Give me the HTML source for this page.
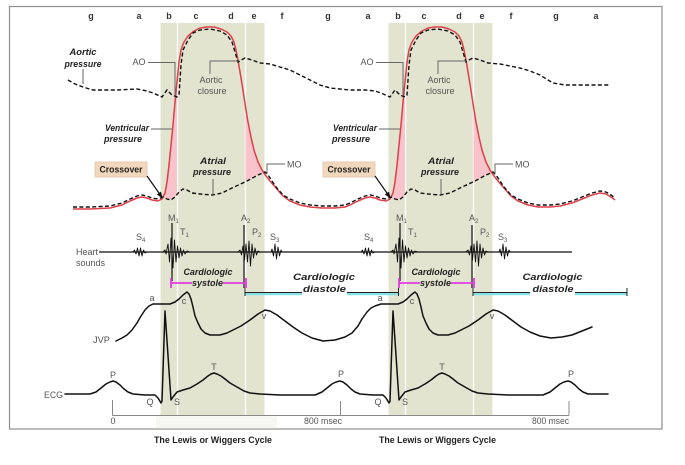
<!DOCTYPE html>
<html><head><meta charset="utf-8"><style>
html,body{margin:0;padding:0;background:#fff;}
svg{display:block;}
text{font-family:"Liberation Sans",Arial,sans-serif;}
.g{fill:#555;font-size:9px;}
.bi{fill:#222;font-size:9px;font-weight:bold;font-style:italic;}
.lt{fill:#333;font-size:9px;font-weight:bold;}
.ld{fill:none;stroke:#666;stroke-width:1;}
.dash{fill:none;stroke:#111;stroke-width:1.4;stroke-dasharray:4 2.4;}
.hs{fill:none;stroke:#111;stroke-width:0.9;stroke-linejoin:round;}
.crv{fill:none;stroke:#111;stroke-width:1.5;stroke-linejoin:round;stroke-linecap:round;}
</style></head><body>
<svg width="685" height="465" viewBox="0 0 685 465" xmlns="http://www.w3.org/2000/svg">
<rect width="685" height="465" fill="#fff"/>
<!-- border -->
<rect x="9.5" y="6.5" width="652.5" height="422.5" fill="none" stroke="#8f8f8f" stroke-width="1.2"/>
<!-- faint strip -->
<rect x="156" y="416.5" width="121" height="12" fill="#f6f6f2"/>

<!-- bands -->
<rect x="160.5" y="23" width="104" height="393" fill="#e3e4d0"/>
<rect x="388.5" y="23" width="104" height="393" fill="#e3e4d0"/>
<g stroke="#fff" stroke-width="1.3">
<line x1="177.5" y1="23" x2="177.5" y2="416"/>
<line x1="245.5" y1="23" x2="245.5" y2="416"/>
<line x1="405.5" y1="23" x2="405.5" y2="416"/>
<line x1="473.5" y1="23" x2="473.5" y2="416"/>
</g>

<!-- letters row -->
<g class="lt" text-anchor="middle">
<text x="91" y="19">g</text><text x="139" y="19">a</text><text x="169" y="19">b</text><text x="196" y="19">c</text><text x="231" y="19">d</text><text x="254" y="19">e</text><text x="282" y="19">f</text><text x="328" y="19">g</text>
<text x="368" y="19">a</text><text x="398" y="19">b</text><text x="424" y="19">c</text><text x="459" y="19">d</text><text x="482" y="19">e</text><text x="511" y="19">f</text><text x="556" y="19">g</text><text x="596" y="19">a</text>
</g>

<!-- pink fills -->
<g fill="#f8c3ca">
<polygon points="163,198 165,193 167,182 169,165 171,145 173,125 175,102 177,82 177,195 175,197 171,199 167,199"/>
<polygon points="245.5,107 246,110 248,122 251,137 254,150 258,162 262,170 265,174 258,175 247,181 245.5,181"/>
<g transform="translate(228,0)">
<polygon points="163,198 165,193 167,182 169,165 171,145 173,125 175,102 177,82 177,195 175,197 171,199 167,199"/>
<polygon points="245.5,107 246,110 248,122 251,137 254,150 258,162 262,170 265,174 258,175 247,181 245.5,181"/>
</g>
</g>

<!-- red ventricular -->
<polyline fill="none" stroke="#dd4048" stroke-width="1.5" stroke-linejoin="round" points="73,209 90,209 110,208 122,205 130,201 137,198 142,197 147,198 152,200 158,201 162,199 165,193 167,182 169,165 171,145 173,125 175,102 177,82 179,62 181,50 184,42 188,36 194,31 200,28 207,27 214,27 221,29 227,32 231,36 234,42 236,50 238,60 240,72 242,84 244,97 246,110 248,122 251,137 254,150 258,162 262,170 266,176 270,181 276,188 283,196 290,201 300,205 310,207 322,208 335,208 345,207 350,205 358,201 365,198 370,197 375,198 380,200 386,201 390,199 393,193 395,182 397,165 399,145 401,125 403,102 405,82 407,62 409,50 412,42 416,36 422,31 428,28 435,27 442,27 449,29 455,32 459,36 462,42 464,50 466,60 468,72 470,84 472,97 474,110 476,122 479,137 482,150 486,162 490,170 494,176 498,181 504,188 511,196 518,201 528,205 538,207 550,207 560,206 572,203 582,199 592,195 600,193 606,194 611,197 615,200"/>

<!-- dashed lower (atrial) -->
<polyline class="dash" points="73,207 90,207 110,206 122,203 130,199 137,196 142,195 147,196 152,198 158,199 163,197 167,199 171,200 175,197 179,192 183,189 187,190 192,193 200,194 212,195 222,193 232,188 247,181 258,175 265,172 268,175 272,181 276,187 283,195 290,199 300,203 310,205 322,206 335,206 345,205 350,203 358,199 365,196 370,195 375,196 380,198 386,199 391,197 395,199 399,200 403,197 407,192 411,189 415,190 420,193 428,194 440,195 450,193 460,188 475,181 486,175 493,172 496,175 500,181 504,187 511,195 518,199 528,203 538,205 550,205 560,204 572,201 582,197 592,193 600,191 606,192 611,195 615,198"/>

<!-- dashed aortic -->
<polyline class="dash" points="68,80 75,84 83,87 93,90 117,90 137,89 147,91 153,93 162,97 167,90 172,95 177,97 179,95 180,80 181,65 183,50 188,40 193,33 200,30 210,29 220,31 227,35 232,42 235,52 238,62 241,60 245,58 252,60 260,63 270,64 280,67 290,70 300,75 310,80 320,85 330,88 340,89 350,90 365,90 375,91 381,93 390,97 395,90 400,95 405,97 407,95 408,80 409,65 411,50 416,40 421,33 428,30 438,29 448,31 455,35 460,42 463,52 466,62 469,60 473,58 480,60 488,63 500,64 510,66 520,68 530,71 540,75 548,80 553,83 565,85 590,85 610,85"/>

<!-- upper labels left -->
<text class="bi" x="83" y="55" text-anchor="middle" textLength="27" lengthAdjust="spacingAndGlyphs">Aortic</text>
<text class="bi" x="83" y="67" text-anchor="middle" textLength="37" lengthAdjust="spacingAndGlyphs">pressure</text>
<line class="ld" x1="83" y1="69" x2="83" y2="84"/>

<g>
<text class="g" x="139" y="65" text-anchor="middle">AO</text>
<polyline class="ld" points="148,62.5 175,62.5 175,95"/>
<text class="g" x="211" y="83" text-anchor="middle">Aortic</text>
<text class="g" x="212" y="94" text-anchor="middle">closure</text>
<polyline class="ld" points="210,74 210,61 238,61"/>
<text class="bi" x="149" y="131" text-anchor="end" textLength="44" lengthAdjust="spacingAndGlyphs">Ventricular</text>
<text class="bi" x="104" y="142" textLength="38" lengthAdjust="spacingAndGlyphs">pressure</text>
<line class="ld" x1="151" y1="129" x2="172" y2="129"/>
<rect x="95" y="162" width="52" height="15" fill="#f1d8bd" stroke="#e0c4a6" stroke-width="0.8"/>
<text x="121" y="172.5" text-anchor="middle" font-size="9" font-weight="bold" fill="#222" textLength="43" lengthAdjust="spacingAndGlyphs">Crossover</text>
<line x1="147" y1="176" x2="160" y2="194.5" stroke="#111" stroke-width="1.2"/>
<polygon points="162,197.5 160.7,192.3 157.5,194.5" fill="#111" stroke="#111" stroke-width="0.8"/>
<text class="bi" x="213" y="164" text-anchor="middle" textLength="26" lengthAdjust="spacingAndGlyphs">Atrial</text>
<text class="bi" x="212" y="175" text-anchor="middle" textLength="38" lengthAdjust="spacingAndGlyphs">pressure</text>
<line class="ld" x1="213" y1="179" x2="213" y2="194"/>
<text class="g" x="287" y="167.5">MO</text>
<polyline class="ld" points="267,174 267,164 285,164"/>
</g>
<g transform="translate(228,0)">
<text class="g" x="139" y="65" text-anchor="middle">AO</text>
<polyline class="ld" points="148,62.5 175,62.5 175,95"/>
<text class="g" x="211" y="83" text-anchor="middle">Aortic</text>
<text class="g" x="212" y="94" text-anchor="middle">closure</text>
<polyline class="ld" points="210,74 210,61 238,61"/>
<text class="bi" x="149" y="131" text-anchor="end" textLength="44" lengthAdjust="spacingAndGlyphs">Ventricular</text>
<text class="bi" x="104" y="142" textLength="38" lengthAdjust="spacingAndGlyphs">pressure</text>
<line class="ld" x1="151" y1="129" x2="172" y2="129"/>
<rect x="95" y="162" width="52" height="15" fill="#f1d8bd" stroke="#e0c4a6" stroke-width="0.8"/>
<text x="121" y="172.5" text-anchor="middle" font-size="9" font-weight="bold" fill="#222" textLength="43" lengthAdjust="spacingAndGlyphs">Crossover</text>
<line x1="147" y1="176" x2="160" y2="194.5" stroke="#111" stroke-width="1.2"/>
<polygon points="162,197.5 160.7,192.3 157.5,194.5" fill="#111" stroke="#111" stroke-width="0.8"/>
<text class="bi" x="213" y="164" text-anchor="middle" textLength="26" lengthAdjust="spacingAndGlyphs">Atrial</text>
<text class="bi" x="212" y="175" text-anchor="middle" textLength="38" lengthAdjust="spacingAndGlyphs">pressure</text>
<line class="ld" x1="213" y1="179" x2="213" y2="194"/>
<text class="g" x="287" y="167.5">MO</text>
<polyline class="ld" points="267,174 267,164 285,164"/>
</g>

<!-- heart sounds -->
<text class="g" x="76" y="255" font-size="8.5">Heart</text>
<text class="g" x="76" y="266" font-size="8.5">sounds</text>
<line x1="99" y1="252" x2="572" y2="252" stroke="#111" stroke-width="1.2"/>
<g>
<polyline class="hs" points="133,252 134.5,250 136,254 137.5,248 139,256 140.5,248 142,256 143.5,250 145,253 147,252"/>
<polyline class="hs" points="163,252 165,250 166,254 168,244 169.5,262 171,238 173,268 174.5,240 176,262 177.5,246 179,258 180.5,248 182,256 183.5,250 185,254 187,251 190,252"/>
<line x1="172" y1="223" x2="172" y2="281" stroke="#111" stroke-width="1.2"/>
<polyline class="hs" points="238,252 240,250 241.5,255 243,246 244.5,260 246,244 247.5,262 249,241 250.5,266 252,244 253.5,258 255,248 256.5,255 258,251 260,252"/>
<line x1="244" y1="225" x2="244" y2="288" stroke="#111" stroke-width="1.2"/>
<polyline class="hs" points="271,252 272,249 273.5,256 275,244 276.5,259 278,247 279.5,256 281,250 282,252"/>
<text class="g" x="136" y="240" font-size="8.5">S<tspan font-size="6" dy="2">4</tspan></text>
<text class="g" x="168" y="221" font-size="8.5">M<tspan font-size="6" dy="2">1</tspan></text>
<text class="g" x="180" y="235" font-size="8.5">T<tspan font-size="6" dy="2">1</tspan></text>
<text class="g" x="241" y="221" font-size="8.5">A<tspan font-size="6" dy="2">2</tspan></text>
<text class="g" x="252" y="235" font-size="8.5">P<tspan font-size="6" dy="2">2</tspan></text>
<text class="g" x="270" y="240" font-size="8.5">S<tspan font-size="6" dy="2">3</tspan></text>
</g>
<g transform="translate(228,0)">
<polyline class="hs" points="133,252 134.5,250 136,254 137.5,248 139,256 140.5,248 142,256 143.5,250 145,253 147,252"/>
<polyline class="hs" points="163,252 165,250 166,254 168,244 169.5,262 171,238 173,268 174.5,240 176,262 177.5,246 179,258 180.5,248 182,256 183.5,250 185,254 187,251 190,252"/>
<line x1="172" y1="223" x2="172" y2="281" stroke="#111" stroke-width="1.2"/>
<polyline class="hs" points="238,252 240,250 241.5,255 243,246 244.5,260 246,244 247.5,262 249,241 250.5,266 252,244 253.5,258 255,248 256.5,255 258,251 260,252"/>
<line x1="244" y1="225" x2="244" y2="288" stroke="#111" stroke-width="1.2"/>
<polyline class="hs" points="271,252 272,249 273.5,256 275,244 276.5,259 278,247 279.5,256 281,250 282,252"/>
<text class="g" x="136" y="240" font-size="8.5">S<tspan font-size="6" dy="2">4</tspan></text>
<text class="g" x="168" y="221" font-size="8.5">M<tspan font-size="6" dy="2">1</tspan></text>
<text class="g" x="180" y="235" font-size="8.5">T<tspan font-size="6" dy="2">1</tspan></text>
<text class="g" x="241" y="221" font-size="8.5">A<tspan font-size="6" dy="2">2</tspan></text>
<text class="g" x="252" y="235" font-size="8.5">P<tspan font-size="6" dy="2">2</tspan></text>
<text class="g" x="270" y="240" font-size="8.5">S<tspan font-size="6" dy="2">3</tspan></text>
</g>

<!-- systole brackets -->
<g>
<g stroke="#e03ce0" stroke-width="1.8">
<line x1="171" y1="283" x2="192" y2="283"/><line x1="223" y1="283" x2="246" y2="283"/>
<line x1="171" y1="278" x2="171" y2="288"/><line x1="246" y1="278" x2="246" y2="288"/>
</g>
<text class="bi" x="208" y="275" text-anchor="middle" textLength="49" lengthAdjust="spacingAndGlyphs">Cardiologic</text>
<text class="bi" x="207.5" y="286" text-anchor="middle" textLength="31" lengthAdjust="spacingAndGlyphs">systole</text>
</g>
<g transform="translate(228,0)">
<g stroke="#e03ce0" stroke-width="1.8">
<line x1="171" y1="283" x2="192" y2="283"/><line x1="223" y1="283" x2="246" y2="283"/>
<line x1="171" y1="278" x2="171" y2="288"/><line x1="246" y1="278" x2="246" y2="288"/>
</g>
<text class="bi" x="208" y="275" text-anchor="middle" textLength="49" lengthAdjust="spacingAndGlyphs">Cardiologic</text>
<text class="bi" x="207.5" y="286" text-anchor="middle" textLength="31" lengthAdjust="spacingAndGlyphs">systole</text>
</g>

<!-- diastole brackets -->
<g stroke="#86e2e6" stroke-width="2.6">
<line x1="245" y1="294" x2="302" y2="294"/><line x1="347" y1="294" x2="398" y2="294"/>
<line x1="473" y1="294" x2="530" y2="294"/><line x1="575" y1="294" x2="627" y2="294"/>
</g>
<g stroke="#222" stroke-width="1">
<line x1="245" y1="292.5" x2="302" y2="292.5"/><line x1="347" y1="292.5" x2="398" y2="292.5"/>
<line x1="473" y1="292.5" x2="530" y2="292.5"/><line x1="575" y1="292.5" x2="627" y2="292.5"/>
<line x1="245" y1="288" x2="245" y2="296"/><line x1="398.5" y1="288" x2="398.5" y2="296"/>
<line x1="473" y1="288" x2="473" y2="296"/><line x1="627" y1="288" x2="627" y2="296"/>
</g>
<text class="bi" x="324" y="280" text-anchor="middle" font-size="11.5" textLength="62" lengthAdjust="spacingAndGlyphs">Cardiologic</text>
<text class="bi" x="324.5" y="292" text-anchor="middle" font-size="11.5" textLength="43" lengthAdjust="spacingAndGlyphs">diastole</text>
<text class="bi" x="552.5" y="280" text-anchor="middle" font-size="11.5" textLength="60" lengthAdjust="spacingAndGlyphs">Cardiologic</text>
<text class="bi" x="553" y="292" text-anchor="middle" font-size="11.5" textLength="41" lengthAdjust="spacingAndGlyphs">diastole</text>

<!-- JVP -->
<text class="g" x="93" y="343" font-size="8.5" textLength="17" lengthAdjust="spacingAndGlyphs">JVP</text>
<polyline class="crv" points="116,341 122,338 127,335 132,330 137,323 141,316 145,310 149,306 153,304 160,304 170,304 175,302 179,299 183,295 187,292 189,294 191,299 193,307 195,316 198,323 201,329 205,333 210,335 220,335 227,333 233,330 241,326 250,320 258,314 265,310 270,311 277,315 285,321 293,327 302,333 312,338 323,341 335,340 345,337 352,333 358,326 362,319 367,312 371,308 375,306 381,304 388,304 398,304 403,302 407,299 411,295 415,292 417,294 419,299 421,307 423,316 426,323 429,329 433,333 438,335 448,335 455,333 461,330 469,326 478,320 486,314 493,310 498,311 505,315 513,321 521,327 530,332 540,336 551,338 562,337 572,335 582,331 592,327"/>
<g class="g" font-size="8.5" text-anchor="middle">
<text x="152" y="301">a</text><text x="184" y="304">c</text><text x="264" y="319">v</text>
<text x="380" y="301">a</text><text x="412" y="304">c</text><text x="492" y="319">v</text>
</g>

<!-- ECG -->
<text class="g" x="44" y="398" font-size="8.5" textLength="19" lengthAdjust="spacingAndGlyphs">ECG</text>
<polyline class="crv" points="65,394 90,394 96,392 101,388 106,384 110,382 113,381 116,382 120,385 124,389 128,392 133,394 145,395 155,395 158,398 161,403 162,401 165,311 171,400 173,397 177,392 183,390 190,388 197,384 203,380 208,376 211,374 214,373 217,374 221,376 225,379 230,383 237,387 244,391 250,393 260,394 280,395 300,395 315,395 322,392 327,388 332,384 336,382 340,381 343,382 347,385 351,389 355,392 360,394 373,395 383,395 386,398 389,403 390,401 393,311 399,400 401,397 405,392 411,390 418,388 425,384 431,380 436,376 439,374 442,373 445,374 449,376 453,379 458,383 465,387 472,391 478,393 488,394 508,395 528,395 543,395 550,392 555,388 560,384 564,382 568,381 571,382 575,385 579,389 583,392 588,394 600,394 608,394"/>
<g class="g" font-size="8.5" text-anchor="middle">
<text x="113" y="378">P</text><text x="150" y="405">Q</text><text x="177" y="405">S</text><text x="214" y="370">T</text>
<text x="341" y="377">P</text><text x="378" y="405">Q</text><text x="405" y="405">S</text><text x="442" y="370">T</text>
<text x="571" y="377">P</text>
</g>

<!-- axis -->
<g stroke="#888" stroke-width="1">
<line x1="112.5" y1="400" x2="112.5" y2="415.5"/>
<line x1="340.5" y1="401" x2="340.5" y2="415.5"/>
<line x1="569" y1="401" x2="569" y2="415.5"/>
<line x1="112.5" y1="415.5" x2="569" y2="415.5"/>
</g>
<g class="g" font-size="8">
<text x="113" y="424" text-anchor="middle">0</text>
<text x="342" y="424" text-anchor="end" textLength="38" lengthAdjust="spacingAndGlyphs">800 msec</text>
<text x="569" y="424" text-anchor="end" textLength="37" lengthAdjust="spacingAndGlyphs">800 msec</text>
</g>

<!-- titles -->
<text x="154" y="443" font-size="9" font-weight="bold" fill="#222" textLength="118" lengthAdjust="spacingAndGlyphs">The Lewis or Wiggers Cycle</text>
<text x="379" y="443" font-size="9" font-weight="bold" fill="#222" textLength="117" lengthAdjust="spacingAndGlyphs">The Lewis or Wiggers Cycle</text>
</svg>
</body></html>
